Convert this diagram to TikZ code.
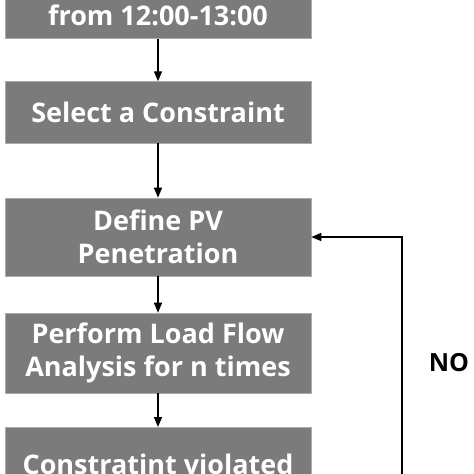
\documentclass[tikz,border=0pt]{standalone}
\usepackage{fontspec}
\setmainfont{Open Sans}
\usepackage{tikz}
\usetikzlibrary{arrows.meta}
\definecolor{ourgray}{HTML}{7B7B7B}
\definecolor{ouredge}{HTML}{ABABAB}
\begin{document}
\begin{tikzpicture}[x=1pt,y=-1pt]

  \tikzstyle{block}=[draw=ouredge, line width=0.6pt, fill=ourgray, text=white,
    font=\fontsize{27}{33}\selectfont\bfseries, align=center,
    minimum width=306pt, inner sep=0pt]
  \tikzstyle{flow}=[-{Triangle[length=10pt,width=8pt]}, line width=1.4pt]
  \tikzstyle{answer}=[font=\fontsize{25}{30}\selectfont\bfseries, inner sep=0pt]

  \path[use as bounding box, clip] (0,0) rectangle (474,474);

  \path
  (158,0) node[block, minimum height=77pt](window){\vphantom{D}\\from 12:00-13:00}
  (158,112.3) node[block, minimum height=61.5pt](select){Select a Constraint}
  (158,237) node[block, minimum height=78pt](define){Define PV\\Penetration}
  (158,353) node[block, minimum height=80pt](loadflow){Perform Load Flow\\Analysis for n times}
  (158,427) node[block, anchor=north, inner ysep=27pt](check){Constratint violated};

  \path
  (449,363) node[answer](no){NO};

  \coordinate (loopstart) at (402,490);

  \draw[flow] (window)--(select);
  \draw[flow] (select)--(define);
  \draw[flow] (define)--(loadflow);
  \draw[flow] (loadflow)--(check);

  \draw[flow] (loopstart) |- (define.east);
\end{tikzpicture}
\end{document}
